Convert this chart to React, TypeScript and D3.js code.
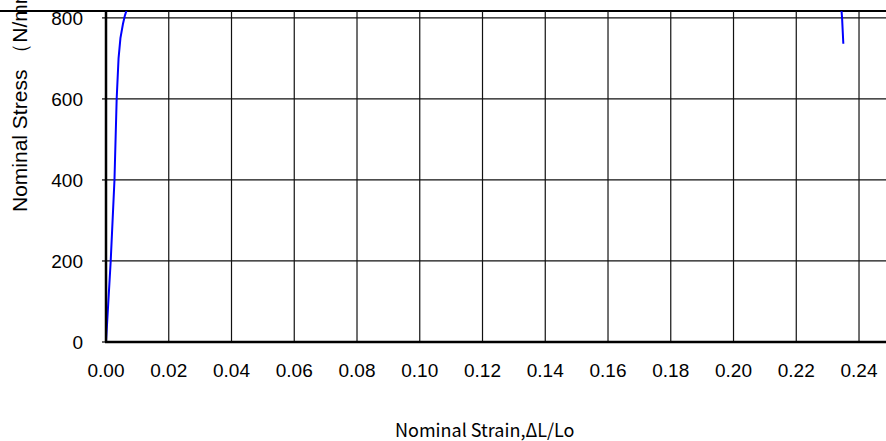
import { line, scaleLinear } from "d3";
import React from "react";

// tensile test curve (only the visible part fits the window)
const strain = [0, 0.0006, 0.0015, 0.0027, 0.0034, 0.004, 0.0046, 0.0054, 0.006, 0.0066, 0.007, 0.2343, 0.2346, 0.235];
const stress = [0, 80, 200, 400, 600, 700, 750, 785, 805, 820, 830, 830, 800, 736];

const xTicks = [0, 0.02, 0.04, 0.06, 0.08, 0.1, 0.12, 0.14, 0.16, 0.18, 0.2, 0.22, 0.24];
const yTicks = [0, 200, 400, 600, 800];

const width = 886;
const height = 441;
const margin = { top: 11, right: 0, bottom: 99, left: 106 };
const innerWidth = width - margin.left - margin.right;
const innerHeight = height - margin.top - margin.bottom;

const xScale = scaleLinear().domain([0, 0.2486]).range([0, innerWidth]);
const yScale = scaleLinear().domain([0, 817]).range([innerHeight, 0]);

const path = line<number>()
  .x((_, i) => xScale(strain[i]))
  .y((d) => yScale(d));

const tickFont = "'Liberation Sans', Arial, sans-serif";
const titleFont = "'Noto Sans CJK JP', sans-serif";

export default function App() {
  return (
    <svg
      width={width}
      height={height}
      viewBox={`0 0 ${width} ${height}`}
      style={{ position: "absolute", left: 0, top: 0, background: "#fff" }}
    >
      <defs>
        <clipPath id="plot">
          <rect x={0} y={0} width={innerWidth} height={innerHeight} />
        </clipPath>
      </defs>
      <line x1={0} x2={width} y1={margin.top} y2={margin.top} stroke="#000" strokeWidth={2} />
      <g transform={`translate(${margin.left}, ${margin.top})`}>
        {yTicks.slice(1).map((t) => (
          <line key={t} x1={0} x2={innerWidth} y1={yScale(t)} y2={yScale(t)} stroke="#111" strokeWidth={1.2} />
        ))}
        {xTicks.slice(1).map((t) => (
          <line key={t} x1={xScale(t)} x2={xScale(t)} y1={0} y2={innerHeight} stroke="#111" strokeWidth={1.2} />
        ))}
        {yTicks.map((t) => (
          <g key={t}>
            <line x1={-4} x2={0} y1={yScale(t)} y2={yScale(t)} stroke="#000" strokeWidth={1.2} />
            <text x={-23} y={yScale(t)} dy="0.36em" textAnchor="end" fontFamily={tickFont} fontSize={19}>
              {t}
            </text>
          </g>
        ))}
        {xTicks.map((t) => (
          <text key={t} x={xScale(t)} y={innerHeight + 35} textAnchor="middle" fontFamily={tickFont} fontSize={19}>
            {t.toFixed(2)}
          </text>
        ))}
        <path d={path(stress) ?? ""} fill="none" stroke="#0000ff" strokeWidth={2} clipPath="url(#plot)" />
        <line x1={0} x2={0} y1={0} y2={innerHeight} stroke="#000" strokeWidth={2.5} />
        <line x1={-1} x2={innerWidth} y1={innerHeight} y2={innerHeight} stroke="#000" strokeWidth={2.5} />
      </g>
      <text x={395} y={437} fontFamily={titleFont} fontSize={18}>
        Nominal Strain,ΔL/Lo
      </text>
      <text transform="translate(27, 212) rotate(-90)" fontFamily={tickFont} fontSize={21}>
        Nominal Stress （N/mm²）
      </text>
    </svg>
  );
}
